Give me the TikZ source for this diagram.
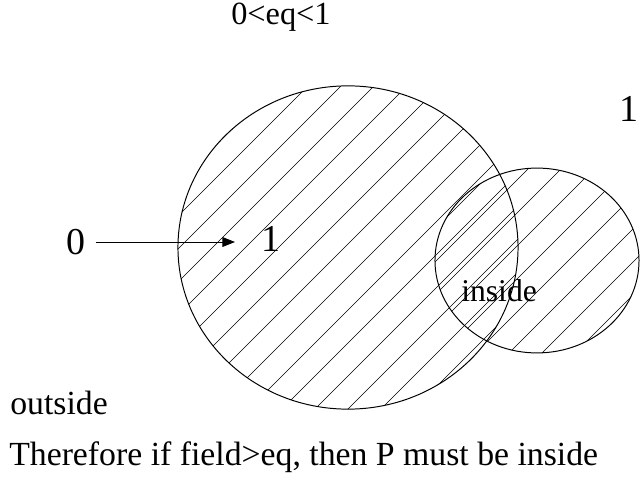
\documentclass[tikz,border=0pt]{standalone}
\usepackage{fontspec}
\setmainfont{Liberation Serif}
\usetikzlibrary{
    arrows.meta
}

\tikzset{
    rim/.style={line width=0.7pt},
    hatch/.style={line width=0.45pt},
    label/.style={inner sep=0pt, anchor=base west},
    digit/.style={label, font=\fontsize{27}{30}\selectfont},
    words/.style={label, font=\fontsize{24}{28}\selectfont}
}

\begin{document}
\begin{tikzpicture}[x=0.025cm, y=-0.025cm]

\useasboundingbox (0,0) rectangle (640,479);

% Hatching, large disc
\begin{scope}
\clip (348,247.5) ellipse [x radius=4.25cm, y radius=4.04cm];
\foreach \c in {361,394,...,860}
    \draw[hatch] (\c,0) -- (\c-479,479);
\end{scope}

% Hatching, small disc
\begin{scope}
\clip (537,260.5) ellipse [x radius=2.55cm, y radius=2.31cm];
\foreach \c in {631,664,...,980}
    \draw[hatch] (\c,0) -- (\c-479,479);
\end{scope}

% Disc outlines
\draw[rim] (348,247.5) ellipse [x radius=4.25cm, y radius=4.04cm];
\draw[rim] (537,260.5) ellipse [x radius=2.55cm, y radius=2.31cm];

% Labels
\node[words, font=\fontsize{23}{27}\selectfont] (range) at (231,25) {0<eq<1};
\node[digit] (far) at (619,122) {1};
\node[digit] (zero) at (66,255) {0};
\node[digit] (one) at (261,252) {1};
\node[words, font=\fontsize{22.5}{26}\selectfont] (inside) at (461,302) {inside};
\node[words] (outside) at (10,414) {outside};
\node[words] (therefore) at (9,465) {Therefore if field>eq, then P must be inside};

% Arrow 0 -> 1
\draw[line width=0.6pt, -{Triangle[length=9pt, width=7pt]},
      shorten <=0.25cm, shorten >=0.65cm]
    (zero.east |- 0,242) -- (one.west |- 0,242);

\end{tikzpicture}
\end{document}
